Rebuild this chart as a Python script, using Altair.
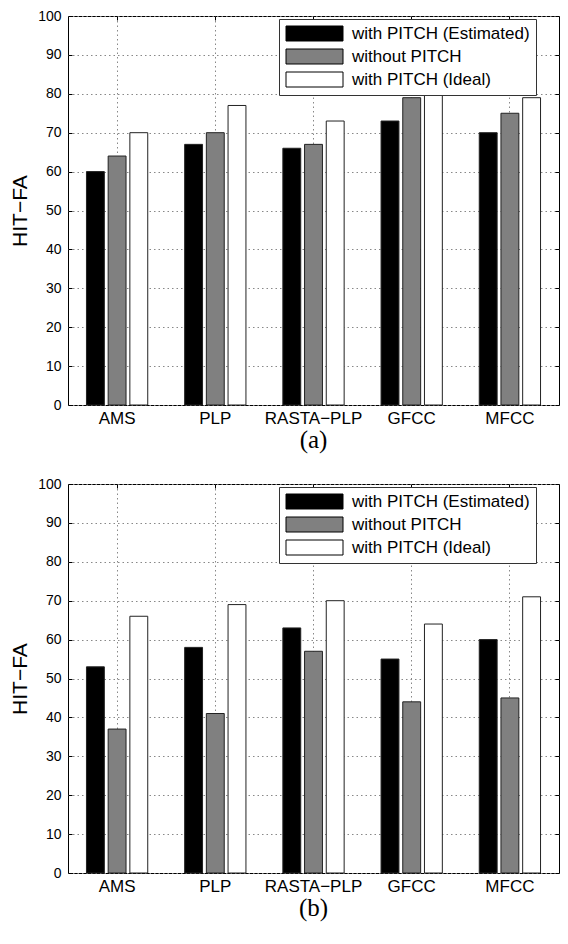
import altair as alt
import pandas as pd

categories = ["AMS", "PLP", "RASTA\u2212PLP", "GFCC", "MFCC"]
series = ["with PITCH (Estimated)", "without PITCH", "with PITCH (Ideal)"]
colors = ["#000000", "#808080", "#ffffff"]

a_estimated = [60, 67, 66, 73, 70]
a_without = [64, 70, 67, 79, 75]
a_ideal = [70, 77, 73, 81, 79]

b_estimated = [53, 58, 63, 55, 60]
b_without = [37, 41, 57, 44, 45]
b_ideal = [66, 69, 70, 64, 71]

y_ticks = list(range(0, 101, 10))

FONT = "Liberation Sans"
SERIF = "Liberation Serif"


def build_frame(vals_list):
    rows = []
    for s, vals in zip(series, vals_list):
        for c, v in zip(categories, vals):
            rows.append({"category": c, "series": s, "value": v})
    return pd.DataFrame(rows)


def panel(df, label):
    x_scale = alt.Scale(domain=categories, paddingInner=0.337, paddingOuter=0.1685)
    xo_scale = alt.Scale(domain=series, paddingInner=0.176, paddingOuter=0.088)
    y_scale = alt.Scale(domain=[0, 100], nice=False)
    color_scale = alt.Scale(domain=series, range=colors)
    legend = alt.Legend(
        title=None, orient="none", legendX=211, legendY=3, direction="vertical",
        symbolType="M-1,-1H6.6V1H-1Z", symbolSize=225,
        symbolStrokeColor="#000", symbolStrokeWidth=1, symbolOpacity=1,
        labelFont=FONT, labelFontSize=17, labelColor="#000", labelOffset=50,
        labelExpr="datum.label + '\u00a0\u00a0\u00a0\u00a0\u00a0\u00a0\u00a0\u00a0\u00a0\u00a0'",
        rowPadding=4, padding=6, strokeColor="#333", fillColor="#fff", labelLimit=400,
    )
    bars = alt.Chart(df).mark_bar(stroke="#222", strokeWidth=1).encode(
        x=alt.X("category:N", scale=x_scale, sort=categories,
                axis=alt.Axis(title=None, orient="bottom", offset=-4, tickSize=4,
                              tickColor="#000", domain=False, labelPadding=5,
                              labelFont=FONT, labelFontSize=17, labelColor="#000",
                              labelAngle=0, grid=True, gridDash=[1.5, 3],
                              gridColor="#888", bandPosition=0.5)),
        xOffset=alt.XOffset("series:N", scale=xo_scale, sort=series),
        y=alt.Y("value:Q", scale=y_scale,
                axis=alt.Axis(title="HIT\u2212FA", values=y_ticks, orient="left",
                              offset=-4, tickSize=4, tickColor="#000", domain=False,
                              labelPadding=7, labelFont=FONT, labelFontSize=14,
                              labelColor="#000", grid=True, gridDash=[1.5, 3],
                              gridColor="#888", titleFont=FONT, titleFontSize=21,
                              titleFontWeight="normal", titleColor="#000",
                              titlePadding=7.5)),
        color=alt.Color("series:N", scale=color_scale, sort=series, legend=legend),
    )
    ticks = alt.Chart(df).mark_bar(opacity=0).encode(
        x=alt.X("category:N", scale=x_scale, sort=categories,
                axis=alt.Axis(title=None, orient="top", offset=-4, tickSize=4,
                              tickColor="#000", labels=False, domain=False,
                              grid=False, bandPosition=0.5, minExtent=0, maxExtent=0)),
        xOffset=alt.XOffset("series:N", scale=xo_scale, sort=series),
        y=alt.Y("value:Q", scale=y_scale,
                axis=alt.Axis(title=None, orient="right", values=y_ticks, offset=-4,
                              tickSize=4, tickColor="#000", labels=False,
                              domain=False, grid=False, minExtent=0, maxExtent=0)),
    )
    return alt.layer(bars, ticks).resolve_axis(x="independent", y="independent").properties(
        width=491, height=389,
        title=alt.TitleParams(label, orient="bottom", font=SERIF, fontSize=25,
                              fontWeight="normal", color="#000", offset=2),
    )


top = panel(build_frame([a_estimated, a_without, a_ideal]), "(a)")
bottom = panel(build_frame([b_estimated, b_without, b_ideal]), "(b)")

chart = alt.vconcat(top, bottom, spacing=79, bounds="flush").resolve_scale(
    color="independent"
).properties(
    padding={"left": 0, "top": 0, "right": 0, "bottom": 0},
    background="#ffffff",
).configure_view(stroke="#000", strokeWidth=1)

chart.save("out.html", embed_options={"renderer": "svg", "actions": False})
